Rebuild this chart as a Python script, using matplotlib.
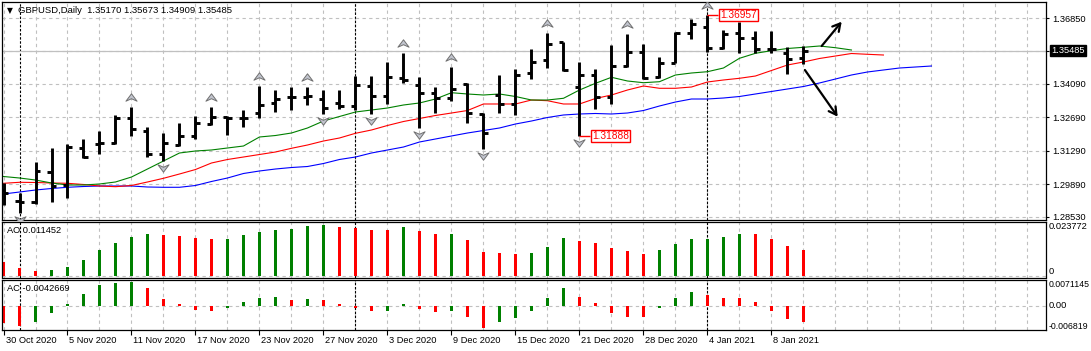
#!/usr/bin/env python3
"""GBPUSD daily bars with Alligator, fractals, AO and AC panels (MT4 look)."""

import matplotlib
matplotlib.use("Agg")
import matplotlib.pyplot as plt
import matplotlib.transforms as mtransforms
from matplotlib.path import Path
import numpy as np

# ---- data (bar index 0 = 30 Oct 2020) ----
opens = [1.29641, 1.29180, 1.29151, 1.30408, 1.29851, 1.31414, 1.31569, 1.31624, 1.32672, 1.32127,
         1.31150, 1.31527, 1.31917, 1.32407, 1.32688, 1.32646, 1.32881, 1.33275, 1.33552, 1.33552,
         1.33443, 1.33275, 1.33162, 1.34000, 1.33581, 1.34323, 1.34042, 1.33694, 1.33485, 1.34071,
         1.32827, 1.33623, 1.33233, 1.34532, 1.35090, 1.35832, 1.33971, 1.34461, 1.33552, 1.34851,
         1.35412, 1.34365, 1.34977, 1.36234, 1.36460, 1.35605, 1.36209, 1.35999, 1.35538, 1.35371,
         1.35170]
highs = [1.29922, 1.29503, 1.30802, 1.31389, 1.31557, 1.31766, 1.32114, 1.32785, 1.33132, 1.32269,
         1.32043, 1.32437, 1.32743, 1.33132, 1.32743, 1.32994, 1.34000, 1.33832, 1.33946, 1.33946,
         1.33832, 1.33832, 1.34419, 1.34419, 1.35018, 1.35396, 1.34365, 1.33946, 1.34784, 1.34113,
         1.32856, 1.34461, 1.34713, 1.35538, 1.36209, 1.35857, 1.34993, 1.34700, 1.35718, 1.36167,
         1.35760, 1.35203, 1.36251, 1.36808, 1.36957, 1.36347, 1.36695, 1.36318, 1.36318, 1.35647,
         1.35673]
lows = [1.29013, 1.28665, 1.29055, 1.29151, 1.29293, 1.30970, 1.31150, 1.31569, 1.31917, 1.31037,
        1.30857, 1.31498, 1.31791, 1.32386, 1.31946, 1.32294, 1.32646, 1.32923, 1.32994, 1.33204,
        1.32827, 1.33024, 1.32994, 1.32827, 1.33246, 1.34113, 1.32227, 1.32881, 1.33384, 1.32437,
        1.31347, 1.32881, 1.32785, 1.34293, 1.34767, 1.34641, 1.31888, 1.33024, 1.33233, 1.34809,
        1.34281, 1.34323, 1.34951, 1.35957, 1.35412, 1.35538, 1.35371, 1.35371, 1.35371, 1.34503,
        1.34909]
closes = [1.29503, 1.29151, 1.30450, 1.29822, 1.31456, 1.31037, 1.31599, 1.32672, 1.32198, 1.31150,
          1.31624, 1.31905, 1.32437, 1.32688, 1.32646, 1.32659, 1.33204, 1.33443, 1.33539, 1.33560,
          1.33091, 1.33162, 1.34042, 1.33581, 1.34390, 1.34252, 1.33719, 1.33510, 1.33874, 1.32881,
          1.32043, 1.33246, 1.34461, 1.35018, 1.35748, 1.34671, 1.34461, 1.33552, 1.34851, 1.35438,
          1.34348, 1.34951, 1.36209, 1.36599, 1.35605, 1.36179, 1.36024, 1.35538, 1.35551, 1.35119,
          1.35485]

# Alligator lines (already shifted forward, so they run past the last bar)
jaw = [1.29474, 1.29557, 1.29641, 1.29704, 1.29755, 1.29788, 1.29809, 1.29809, 1.29809, 1.29767,
       1.29755, 1.29755, 1.29830, 1.29998, 1.30144, 1.30333, 1.30438, 1.30521, 1.30584, 1.30626,
       1.30752, 1.30920, 1.31024, 1.31192, 1.31318, 1.31443, 1.31653, 1.31779, 1.31905, 1.32030,
       1.32135, 1.32240, 1.32407, 1.32533, 1.32680, 1.32785, 1.32827, 1.32848, 1.32827, 1.32868,
       1.32973, 1.33162, 1.33329, 1.33455, 1.33455, 1.33497, 1.33560, 1.33665, 1.33770, 1.33874,
       1.33979, 1.34126, 1.34293, 1.34461, 1.34587, 1.34671, 1.34754, 1.34796, 1.34838]
teeth = [1.29922, 1.29964, 1.29956, 1.29935, 1.29922, 1.29872, 1.29809, 1.29780, 1.29830, 1.29977,
         1.30132, 1.30312, 1.30500, 1.30773, 1.30920, 1.31024, 1.31129, 1.31234, 1.31389, 1.31527,
         1.31695, 1.31821, 1.32018, 1.32156, 1.32345, 1.32512, 1.32638, 1.32764, 1.32868, 1.32973,
         1.33246, 1.33246, 1.33246, 1.33413, 1.33384, 1.33246, 1.33246, 1.33476, 1.33623, 1.33832,
         1.34000, 1.33904, 1.33904, 1.33958, 1.34168, 1.34252, 1.34323, 1.34419, 1.34650, 1.34880,
         1.35006, 1.35153, 1.35257, 1.35362, 1.35329, 1.35299]
lips = [1.30207, 1.30144, 1.30060, 1.29935, 1.29851, 1.29851, 1.29893, 1.29977, 1.30186, 1.30521,
        1.30857, 1.31192, 1.31276, 1.31318, 1.31402, 1.31485, 1.31863, 1.31925, 1.32030, 1.32240,
        1.32533, 1.32722, 1.32910, 1.32994, 1.33078, 1.33204, 1.33288, 1.33455, 1.33719, 1.33665,
        1.33623, 1.33665, 1.33560, 1.33413, 1.33413, 1.33485, 1.33832, 1.34113, 1.34365, 1.34210,
        1.34138, 1.34180, 1.34461, 1.34545, 1.34599, 1.34754, 1.35161, 1.35371, 1.35480, 1.35572,
        1.35622, 1.35676, 1.35605, 1.35509]

ao = [0.00630, 0.00366, 0.00235, 0.00264, 0.00411, 0.00705, 0.01145, 0.01454, 0.01733, 0.01850,
      0.01806, 0.01762, 0.01689, 0.01630, 0.01640, 0.01806, 0.01938, 0.02026, 0.02070, 0.02203,
      0.02247, 0.02158, 0.02114, 0.02026, 0.02020, 0.02150, 0.01982, 0.01845, 0.01855, 0.01586,
      0.01057, 0.01013, 0.00969, 0.01013, 0.01277, 0.01674, 0.01542, 0.01454, 0.01233, 0.01101,
      0.00969, 0.01145, 0.01410, 0.01630, 0.01636, 0.01718, 0.01850, 0.01845, 0.01630, 0.01322,
      0.011452]
ac = [-0.00453, -0.00544, -0.00426, -0.00181, 0.00054, 0.00326, 0.00571, 0.00634, 0.00640, 0.00490,
      0.00190, 0.00054, -0.00109, -0.00136, -0.00054, 0.00109, 0.00218, 0.00245, 0.00163, 0.00190,
      0.00163, 0.00054, -0.00054, -0.00136, -0.00125, 0.00054, -0.00082, -0.00163, -0.00136, -0.00299,
      -0.00598, -0.00435, -0.00326, -0.00136, 0.00218, 0.00490, 0.00245, 0.00082, -0.00190, -0.00299,
      -0.00305, -0.00054, 0.00218, 0.00381, 0.00299, 0.00218, 0.00212, 0.00109, -0.00136, -0.00354,
      -0.0042669]

up_fractals = [8, 13, 16, 19, 25, 28, 34, 39, 44]
down_fractals = [1, 10, 20, 23, 26, 30, 36]

tick_bars = [0, 4, 8, 12, 16, 20, 24, 28, 32, 36, 40, 44, 48]
tick_labels = ["30 Oct 2020", "5 Nov 2020", "11 Nov 2020", "17 Nov 2020", "23 Nov 2020",
               "27 Nov 2020", "3 Dec 2020", "9 Dec 2020", "15 Dec 2020", "21 Dec 2020",
               "28 Dec 2020", "4 Jan 2021", "8 Jan 2021"]
month_separators = [1, 22, 44]

price_ticks = [1.36850, 1.35470, 1.34090, 1.32690, 1.31290, 1.29890, 1.28530]
price_tick_labels = ["1.36850", "", "1.34090", "1.32690", "1.31290", "1.29890", "1.28530"]
bid = 1.35485
title_ohlc = "1.35170 1.35673 1.34909 1.35485"

# marked extremes (bar, price) and the two drawn arrows ((bar, price) -> (bar, price))
price_marks = [(36, 1.31888), (44, 1.36957)]
drawn_arrows = [((51.14, 1.35676), (52.39, 1.36695)),
                ((50.09, 1.34671), (52.14, 1.32713))]

# ---- layout / style ----
W, H, DPI = 1091, 351, 100
BULL = "#008000"
BEAR = "#ff0000"
GRID = "#c0c0c0"
GRID_DASH = (0, (3, 3))
XLIM = (-0.094, 65.16)

plt.rcParams["font.family"] = ["Liberation Sans", "DejaVu Sans"]
plt.rcParams["font.size"] = 6.7


def add_px_axes(fig, x0, y0, x1, y1):
    return fig.add_axes([x0 / W, 1 - y1 / H, (x1 - x0) / W, (y1 - y0) / H])


def shifted(ax, fig, dx=0, dy=0):
    return mtransforms.offset_copy(ax.transData, fig=fig, x=dx, y=dy, units="dots")


def right_text(ax, fig, dx):
    base = mtransforms.blended_transform_factory(ax.transAxes, ax.transData)
    return base + mtransforms.ScaledTranslation(dx / DPI, 0, fig.dpi_scale_trans)


def style_panel(ax):
    ax.set_xlim(XLIM)
    ax.set_facecolor("white")
    ax.tick_params(which="both", length=0, labelbottom=False, labelleft=False,
                   labelright=False)
    for spine in ax.spines.values():
        spine.set_color("black")
        spine.set_linewidth(0.9)
    for b in np.arange(0, 66, 2):
        ax.axvline(b, color=GRID, ls=GRID_DASH, lw=0.8, zorder=0)
    for b in month_separators:
        ax.axvline(b, color="black", ls=(0, (2.2, 1.5)), lw=0.8, zorder=1)


def bar_colors(values):
    return [BEAR] + [BULL if cur > prev else BEAR for prev, cur in zip(values[:-1], values[1:])]


fig = plt.figure(figsize=(W / DPI, H / DPI), dpi=DPI, facecolor="white")

# ---- main price panel ----
ax = add_px_axes(fig, 2, 2, 1046, 219.5)
style_panel(ax)
ax.set_ylim(1.284049, 1.375206)
ax.yaxis.tick_right()
ax.set_yticks(price_ticks)
ax.set_yticklabels(price_tick_labels)
ax.tick_params(axis="y", length=2.2, width=0.8, pad=2.2, labelright=True, labelsize=6.7)
ax.grid(True, axis="y", color=GRID, ls=GRID_DASH, lw=0.8, zorder=0)
ax.axhline(bid, color="#c0c0c0", lw=0.9, zorder=1)

ax.plot(np.arange(len(jaw)), jaw, color="#0000ff", lw=0.8, zorder=2)
ax.plot(np.arange(len(teeth)), teeth, color="#ff0000", lw=0.8, zorder=2)
ax.plot(np.arange(len(lips)), lips, color="#008000", lw=0.8, zorder=2)

x = np.arange(len(opens))
ax.vlines(x, lows, highs, color="black", lw=2.1, zorder=3)
ax.hlines(opens, x - 0.3, x, color="black", lw=2.1, zorder=3)
ax.hlines(closes, x, x + 0.3, color="black", lw=2.1, zorder=3)

codes = [Path.MOVETO, Path.LINETO, Path.LINETO, Path.LINETO, Path.CLOSEPOLY]
up_marker = Path([(0, 0.6), (0.9, -0.6), (0, -0.2), (-0.9, -0.6), (0, 0.6)], codes)
down_marker = Path([(0, -0.6), (0.9, 0.6), (0, 0.2), (-0.9, 0.6), (0, -0.6)], codes)
ax.plot(up_fractals, [highs[i] for i in up_fractals], ls="none", marker=up_marker, ms=8,
        mfc="#c2c5cf", mec="#707070", mew=0.7, transform=shifted(ax, fig, dy=10), zorder=4)
ax.plot(down_fractals, [lows[i] for i in down_fractals], ls="none", marker=down_marker, ms=8,
        mfc="#c2c5cf", mec="#707070", mew=0.7, transform=shifted(ax, fig, dy=-7), zorder=4)

for bar, price in price_marks:
    ax.hlines(price, bar, bar + 0.67, color="red", lw=1.0, zorder=4)
    ax.text(bar, price, f"{price:.5f}", transform=shifted(ax, fig, dx=13), ha="left",
            va="center", color="red", fontsize=7.3, zorder=5,
            bbox=dict(boxstyle="square,pad=0.1", fc="white", ec="red", lw=1.0))

for start, end in drawn_arrows:
    ax.annotate("", xy=end, xytext=start, zorder=5,
                arrowprops=dict(arrowstyle="->,head_length=0.8,head_width=0.45",
                                color="black", lw=1.6, shrinkA=0, shrinkB=0))

ax.text(1.0, bid, f"{bid:.5f}", transform=right_text(ax, fig, 5), ha="left", va="center",
        color="white", fontsize=6.7, clip_on=False,
        bbox=dict(boxstyle="square,pad=0.15", fc="black", ec="black"))

# ---- AO panel ----
ax_ao = add_px_axes(fig, 2, 222, 1046, 277.5)
style_panel(ax_ao)
ax_ao.set_ylim(-0.000661, 0.023787)
ax_ao.axhline(0, color=GRID, ls=GRID_DASH, lw=0.8, zorder=0)
ax_ao.bar(np.arange(len(ao)), ao, width=0.2, color=bar_colors(ao), lw=0, zorder=2)
ax_ao.text(1.0, 0.023772, "0.023772", transform=right_text(ax_ao, fig, 3), va="top", ha="left")
ax_ao.text(1.0, 0.0, "0", transform=right_text(ax_ao, fig, 3), va="bottom", ha="left")

# ---- AC panel ----
ax_ac = add_px_axes(fig, 2, 279.5, 1046, 330)
style_panel(ax_ac)
ax_ac.set_ylim(-0.006528, 0.007208)
ax_ac.axhline(0, color=GRID, ls=GRID_DASH, lw=0.8, zorder=0)
ax_ac.bar(np.arange(len(ac)), ac, width=0.2, color=bar_colors(ac), lw=0, zorder=2)
ax_ac.text(1.0, 0.0071145, "0.0071145", transform=right_text(ax_ac, fig, 3), va="top",
           ha="left", fontsize=6.3)
ax_ac.text(1.0, 0.0, "0.00", transform=right_text(ax_ac, fig, 3), va="center", ha="left")
ax_ac.text(1.0, -0.006819, "-0.006819", transform=right_text(ax_ac, fig, 3), va="bottom",
           ha="left", fontsize=6.3)

ax_ac.set_xticks(tick_bars)
ax_ac.tick_params(axis="x", which="major", direction="out", length=3.5, width=0.8,
                  labelbottom=False)
date_tr = mtransforms.blended_transform_factory(ax_ac.transData, ax_ac.transAxes) + \
    mtransforms.ScaledTranslation(2 / DPI, -10.5 / DPI, fig.dpi_scale_trans)
for bar, label in zip(tick_bars, tick_labels):
    ax_ac.text(bar, 0, label, transform=date_tr, ha="left", va="center", clip_on=False)

# ---- window captions ----
fig.text(7 / W, 1 - 10.5 / H, "\u25bc", fontsize=5.5, va="center", ha="left",
         family=["DejaVu Sans"])
fig.text(18 / W, 1 - 10.5 / H, f"GBPUSD,Daily  {title_ohlc}", fontsize=6.8, va="center",
         ha="left")
fig.text(7 / W, 1 - 230.5 / H, f"AO {ao[-1]:.6f}", fontsize=6.7, va="center", ha="left")
fig.text(7 / W, 1 - 288.5 / H, f"AC {ac[-1]:.7f}", fontsize=6.7, va="center", ha="left")

fig.savefig("out.png", dpi=DPI, facecolor="white")
